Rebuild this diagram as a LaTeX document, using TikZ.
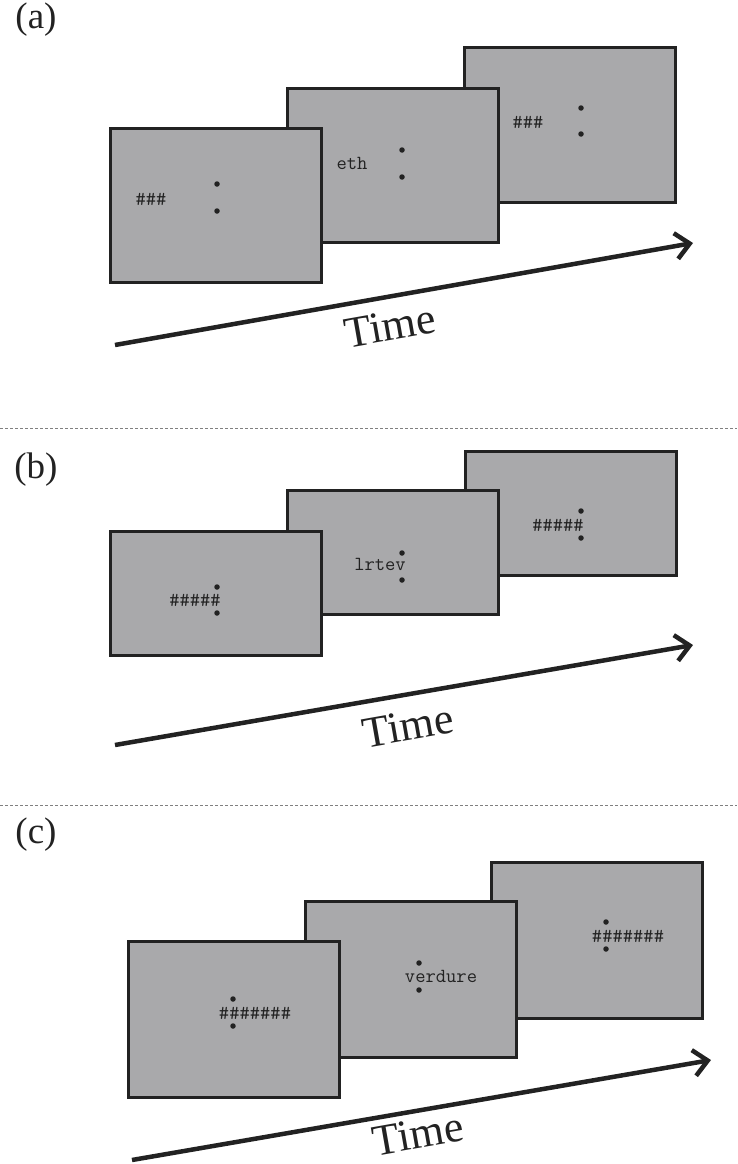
\documentclass[tikz,border=0pt]{standalone}
\usepackage{fontspec}
\setmainfont{Liberation Serif}
\usetikzlibrary{arrows.meta,positioning}
\definecolor{screengray}{RGB}{169,169,171}
\definecolor{inkdark}{RGB}{34,34,34}

\begin{document}
\begin{tikzpicture}[x=1pt, y=-1pt,
    screen/.style={draw=inkdark, line width=3pt, fill=screengray, minimum width=211pt, inner sep=0pt},
    stim/.style={font=\ttfamily\fontsize{20}{20}\selectfont, text=inkdark, inner sep=0pt},
    fixdot/.style={circle, fill=inkdark, inner sep=0pt, minimum size=5.5pt},
    timearrow/.style={draw=inkdark, line width=4.5pt, -{Straight Barb[length=14pt, width=26pt]}},
    timelabel/.style={font=\fontsize{44}{44}\selectfont, text=inkdark, rotate=10, inner sep=0pt,
        text height=0.68em, text depth=0pt},
    panellabel/.style={font=\fontsize{37}{37}\selectfont, text=inkdark, inner sep=0pt},
    separator/.style={gray, densely dashed, line width=0.6pt}
]
\useasboundingbox (0,0) rectangle (737,1164);

% Panel (a)
\node[panellabel] (la) at (36,20) {(a)};
\node[screen, minimum height=154pt] (a3) at (570,125) {};
\node[screen, minimum height=154pt] (a2) at (393,165) {};
\node[screen, minimum height=154pt] (a1) at (216,205) {};
\node[stim] (a1text) at (151,199) {\#\#\#};
\node[fixdot] (a1up) at (217,184) {};
\node[fixdot] (a1dn) at (217,211) {};
\node[stim] (a2text) at (352,163) {eth};
\node[fixdot] (a2up) at (402,150) {};
\node[fixdot] (a2dn) at (402,177) {};
\node[stim] (a3text) at (528,122) {\#\#\#};
\node[fixdot] (a3up) at (581,108) {};
\node[fixdot] (a3dn) at (581,134) {};
\coordinate (astart) at (115,345);
\coordinate (aend) at (693,243);
\draw[timearrow] (astart) -- (aend);
\node[timelabel] (atime) at (392,337) {Time};

\draw[separator] (0,428) -- (737,428);

% Panel (b)
\node[panellabel] (lb) at (36,470) {(b)};
\node[screen, minimum height=124pt] (b3) at (571,513) {};
\node[screen, minimum height=124pt] (b2) at (393,552) {};
\node[screen, minimum height=124pt] (b1) at (216,593) {};
\node[stim] (b1text) at (195,600) {\#\#\#\#\#};
\node[fixdot] (b1up) at (217,587) {};
\node[fixdot] (b1dn) at (217,613) {};
\node[stim] (b2text) at (380,564) {lrtev};
\node[fixdot] (b2up) at (402,553) {};
\node[fixdot] (b2dn) at (402,580) {};
\node[stim] (b3text) at (558,525) {\#\#\#\#\#};
\node[fixdot] (b3up) at (581,511) {};
\node[fixdot] (b3dn) at (581,538) {};
\coordinate (bstart) at (115,745);
\coordinate (bend) at (693,645);
\draw[timearrow] (bstart) -- (bend);
\node[timelabel] (btime) at (410,737) {Time};

\draw[separator] (0,805) -- (737,805);

% Panel (c)
\node[panellabel] (lc) at (36,835) {(c)};
\node[screen, minimum height=156pt] (c3) at (597,940) {};
\node[screen, minimum height=156pt] (c2) at (411,979) {};
\node[screen, minimum height=156pt] (c1) at (234,1019) {};
\node[stim] (c1text) at (255,1013) {\#\#\#\#\#\#\#};
\node[fixdot] (c1up) at (233,999) {};
\node[fixdot] (c1dn) at (233,1026) {};
\node[stim] (c2text) at (441,976) {verdure};
\node[fixdot] (c2up) at (419,963) {};
\node[fixdot] (c2dn) at (419,990) {};
\node[stim] (c3text) at (628,936) {\#\#\#\#\#\#\#};
\node[fixdot] (c3up) at (606,922) {};
\node[fixdot] (c3dn) at (606,949) {};
\coordinate (cstart) at (132,1160);
\coordinate (cend) at (711,1060);
\draw[timearrow] (cstart) -- (cend);
\node[timelabel] (ctime) at (420,1145) {Time};
\end{tikzpicture}
\end{document}
